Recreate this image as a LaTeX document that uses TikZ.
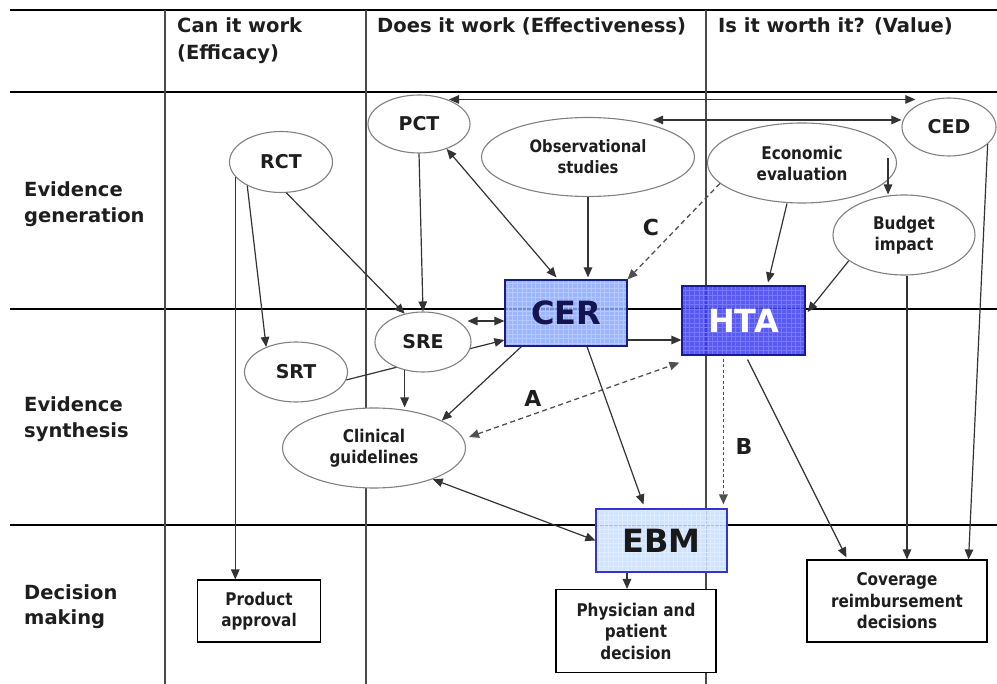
\documentclass[tikz,border=0pt]{standalone}
\usepackage{fontspec}
\setmainfont{DejaVu Sans}
\newfontfamily\nfont[FakeStretch=0.87]{DejaVu Sans}
\usetikzlibrary{shapes.geometric,arrows.meta,calc,backgrounds}
\definecolor{edgecol}{HTML}{333333}
\definecolor{ellcol}{HTML}{808080}
\definecolor{txtcol}{HTML}{1E1E1E}
\definecolor{vcol}{HTML}{4A4A4A}
\definecolor{cerfill}{HTML}{8AA8FF}
\definecolor{cergrid}{HTML}{B8CCFF}
\definecolor{cerdraw}{HTML}{1C1C7A}
\definecolor{certext}{HTML}{141450}
\definecolor{htafill}{HTML}{3C3CF2}
\definecolor{htagrid}{HTML}{7C7CFF}
\definecolor{htadraw}{HTML}{1A1A96}
\definecolor{ebmfill}{HTML}{C8DEFF}
\definecolor{ebmgrid}{HTML}{E2EEFF}
\definecolor{ebmdraw}{HTML}{3434D0}
\definecolor{dashcol}{HTML}{505050}
\tikzset{
  ell/.style={ellipse, draw=ellcol, line width=1.1pt, fill=white, inner sep=0pt, align=center,
    text=txtcol, font=\nfont\bfseries\fontsize{17.5}{21}\selectfont},
  abbr/.style={ell, font=\bfseries\fontsize{19}{21}\selectfont},
  plainbox/.style={rectangle, draw=black, line width=1.1pt, fill=white, inner sep=0pt, align=center,
    text=txtcol, font=\nfont\bfseries\fontsize{17.5}{21.5}\selectfont},
  bigbox/.style n args={3}{rectangle, draw=#1, line width=1.2pt, fill=#2, fill opacity=0.85, text opacity=1,
    inner sep=0pt, font=\bfseries\fontsize{32}{32}\selectfont,
    path picture={\draw[#3, line width=0.55pt, step=4.6pt, opacity=0.9]
      (path picture bounding box.south west) grid (path picture bounding box.north east);}},
  hdr/.style={anchor=base west, inner sep=0pt, text=txtcol, font=\bfseries\fontsize{19.5}{23}\selectfont},
  lbl/.style={inner sep=0pt, text=txtcol, font=\bfseries\fontsize{22}{22}\selectfont},
  hline/.style={draw=black, line width=1.4pt},
  vline/.style={draw=vcol, line width=1.8pt},
  conn/.style={draw=edgecol, line width=1.2pt, -{Triangle[length=10pt,width=8.5pt]}},
  dconn/.style={draw=edgecol, line width=1.2pt, {Triangle[length=10pt,width=8.5pt]}-{Triangle[length=10pt,width=8.5pt]}},
  dashconn/.style={draw=dashcol, line width=1.3pt, dash pattern=on 5pt off 3.5pt},
  dotconn/.style={draw=dashcol, line width=1.8pt, dash pattern=on 3pt off 2.5pt},
}
\begin{document}
\begin{tikzpicture}[x=1pt,y=-1pt]
\useasboundingbox (0,0) rectangle (997,684);

% headers
\node[hdr] (h1a) at (177,33) {Can it work};
\node[hdr] (h1b) at (177,60) {(Efficacy)};
\node[hdr] (h2) at (377,33) {Does it work (Effectiveness)};
\node[hdr] (h3) at (718,33) {Is it worth it? (Value)};
% row labels
\node[hdr] (r1a) at (24,197) {Evidence};
\node[hdr] (r1b) at (24,223) {generation};
\node[hdr] (r2a) at (24,412) {Evidence};
\node[hdr] (r2b) at (24,438) {synthesis};
\node[hdr] (r3a) at (24,600) {Decision};
\node[hdr] (r3b) at (24,625) {making};

% ellipses
\node[abbr, minimum width=102pt, minimum height=58pt] (PCT) at (419,124) {PCT};
\node[ell, minimum width=213pt, minimum height=79pt, font=\nfont\bfseries\fontsize{17}{21}\selectfont] (Obs) at (588,157) {Observational\\studies};
\node[abbr, minimum width=94pt, minimum height=58pt] (CED) at (949,127) {CED};
\node[ell, minimum width=189pt, minimum height=80pt] (Econ) at (802,163) {Economic\\evaluation};
\node[ell, minimum width=142pt, minimum height=80pt] (Budget) at (904,235) {Budget\\impact};
\node[abbr, minimum width=103pt, minimum height=61pt] (RCT) at (281,162) {RCT};
\node[abbr, minimum width=96pt, minimum height=60pt] (SRE) at (423,342) {SRE};
\node[abbr, minimum width=103pt, minimum height=60pt] (SRT) at (296,372) {SRT};
\node[ell, minimum width=183pt, minimum height=80pt] (Clin) at (374,448) {Clinical\\guidelines};

% blue boxes
\node[bigbox={cerdraw}{cerfill}{cergrid}, minimum width=122pt, minimum height=66pt, text=certext] (CER) at (566,313) {CER};
\node[bigbox={htadraw}{htafill}{htagrid}, minimum width=123pt, minimum height=69pt, text=white] (HTA) at (743.5,320.5) {HTA};
\node[bigbox={ebmdraw}{ebmfill}{ebmgrid}, minimum width=131pt, minimum height=63pt, text=black!90] (EBM) at (661.5,540.5) {EBM};

% decision boxes
\node[plainbox, minimum width=123pt, minimum height=62pt] (Prod) at (259,611) {Product\\approval};
\node[plainbox, minimum width=160pt, minimum height=83pt] (Phys) at (636,631) {Physician and\\patient\\decision};
\node[plainbox, minimum width=180pt, minimum height=82pt] (Cov) at (897,601) {Coverage\\reimbursement\\decisions};

% letters
\node[lbl] (LA) at (533,398) {A};
\node[lbl] (LB) at (744,446) {B};
\node[lbl] (LC) at (651,227) {C};

% helper points on node borders
\coordinate (t1) at ($(PCT.north)+(30,5)$);
\coordinate (t2) at ($(Obs.north)+(65,3)$);
\coordinate (eb) at ($(Econ.east)+(-9,-5)$);
\coordinate (bc) at ($(Budget.south)+(3,0)$);
\coordinate (sc) at ($(SRE.east)+(-4,-21)$);
\coordinate (hb) at ($(HTA.south west)+(42,3)$);
\coordinate (ch) at ($(CER.east)+(0,27)$);
\coordinate (ep) at ($(EBM.south)+(-34.5,0)$);

\begin{pgfonlayer}{background}
  \draw[hline] (10,10) -- (997,10);
  \draw[hline] (10,92) -- (997,92);
  \draw[hline] (10,309) -- (997,309);
  \draw[hline] (10,525) -- (997,525);
  \draw[vline] (165,10) -- (165,684);
  \draw[vline] (366,10) -- (366,684);
  \draw[vline] (706,10) -- (706,684);
  % SRT to CER passes behind SRE
  \draw[conn] (SRT.-9) -- ($(CER.west)+(0,27)$);
\end{pgfonlayer}

% connectors
\draw[dconn] (t1) -- (t1 -| CED.north west);
\draw[dconn] (t2) -- (t2 -| CED.west);
\draw[dconn] (PCT.-42) -- ($(CER.north west)+(52,-2)$);
\draw[conn] (Obs.south) -- ($(Obs.south |- CER.north)+(0,-2)$);
\draw[dashconn, -{Triangle[length=10pt,width=8.5pt]}] (Econ.194) -- (CER.north east);
\draw[conn] (eb) -- (eb |- Budget.north);
\draw[conn] ($(Econ.south)+(-15,0)$) -- ($(HTA.north)+(24.5,-3)$);
\draw[conn] (Budget.205) -- ($(HTA.east)+(2,-8.5)$);
\draw[conn] (bc) -- (bc |- Cov.north);
\draw[conn] (CED.-24) -- ($(Cov.north east)+(-19,0)$);
\draw[conn] (RCT.215) -- (SRT.140);
\draw[conn] (RCT.-80) -- (SRE.123);
\draw[conn] (RCT.198) -- (RCT.198 |- Prod.north);
\draw[conn] (PCT.south) -- (SRE.north);
\draw[dconn] (sc) -- (sc -| CER.west);
\draw[conn] ($(CER.south west)+(17,0)$) -- (Clin.22);
\draw[conn] (SRE.237) -- (SRE.237 |- Clin.north);
\draw[dashconn, {Triangle[length=10pt,width=8.5pt]}-{Triangle[length=10pt,width=8.5pt]}] ($(Clin.east)+(3,-11)$) -- ($(HTA.south west)+(-2,7)$);
\draw[conn] ($(CER.south)+(21,0)$) -- ($(EBM.north)+(-18,-4)$);
\draw[dotconn, -{Triangle[length=10pt,width=8.5pt]}, shorten >=4pt] (hb) -- (hb |- EBM.north);
\draw[conn] ($(HTA.south)+(4,4)$) -- ($(Cov.north west)+(40,-2)$);
\draw[conn] (ch) -- (ch -| HTA.west);
\draw[dconn] (Clin.-28) -- (EBM.west);
\draw[conn] (ep) -- (ep |- Phys.north);
\end{tikzpicture}
\end{document}
